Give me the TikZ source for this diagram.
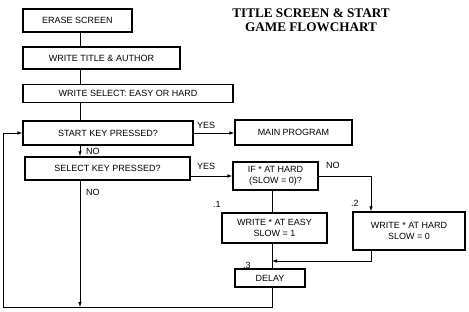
\documentclass[tikz,border=0pt]{standalone}
\usepackage{fontspec}
\setmainfont{Liberation Sans}
\newfontfamily\titlefont{Liberation Serif}
\usetikzlibrary{arrows.meta}
\begin{document}
\begin{tikzpicture}[x=1pt,y=-1pt,
  box/.style={draw, line width=1.2pt, inner sep=0pt, align=center,
    font=\fontsize{9}{11}\selectfont},
  conn/.style={draw, line width=0.8pt},
  arr/.style={conn, -{Latex[length=5pt,width=3.6pt]}},
  lbl/.style={font=\fontsize{9}{10}\selectfont, inner sep=0pt, anchor=west},
  ttl/.style={font=\titlefont\bfseries\fontsize{13.2}{13.5}\selectfont, align=center, inner sep=0pt}]
\useasboundingbox (0,0) rectangle (469,312);
\fill[white] (0,0) rectangle (469,312);

\node[ttl] (title) at (311,20) {TITLE SCREEN \& START\\GAME FLOWCHART};

\node[box, minimum width=109pt, minimum height=23pt] (erase) at (77.5,20.5) {ERASE SCREEN};
\node[box, minimum width=157pt, minimum height=22pt] (wtitle) at (101.5,58) {WRITE TITLE \& AUTHOR};
\node[box, minimum width=210pt, minimum height=18pt] (wsel) at (128,93.5) {WRITE SELECT: EASY OR HARD};
\node[box, minimum width=170pt, minimum height=24pt] (start) at (108,133) {START KEY PRESSED?};
\node[box, minimum width=117pt, minimum height=25pt] (main) at (293.5,132.5) {MAIN PROGRAM};
\node[box, minimum width=165pt, minimum height=23pt] (selkey) at (107.5,168.5) {SELECT KEY PRESSED?};
\node[box, minimum width=85pt, minimum height=28pt] (ifhard) at (275.5,176) {IF * AT HARD\\(SLOW = 0)?};
\node[box, minimum width=105pt, minimum height=30pt] (easy) at (274.5,228) {WRITE * AT EASY\\SLOW = 1};
\node[box, minimum width=112pt, minimum height=38pt] (hard) at (409,231) {WRITE * AT HARD\\SLOW = 0};
\node[box, minimum width=70pt, minimum height=18pt] (delay) at (270,278) {DELAY};

\coordinate (colx) at (80,0);
\coordinate (cole) at (272,0);
\coordinate (nocorner) at (371,176);
\coordinate (join) at (371,261);
\coordinate (c1) at (272,307);
\coordinate (c2) at (3,307);
\coordinate (c3) at (3,133);
\coordinate (bot) at (80,307);

\draw[conn] (erase.south -| colx) -- (wtitle.north -| colx);
\draw[conn] (wtitle.south -| colx) -- (wsel.north -| colx);
\draw[conn] (wsel.south -| colx) -- (start.north -| colx);
\draw[arr] (start.south -| colx) -- (selkey.north -| colx);
\draw[arr] (selkey.south -| colx) -- (bot);
\draw[arr] (start.east) -- (start.east -| main.west);
\draw[arr] (selkey.east |- ifhard.west) -- (ifhard.west);
\draw[arr] (ifhard.east |- nocorner) -- (nocorner) -- (nocorner |- hard.north);
\draw[conn] (ifhard.south -| cole) -- (easy.north -| cole);
\draw[conn] (easy.south -| cole) -- (delay.north -| cole);
\draw[arr] (hard.south -| join) -- (join) -- (join -| cole);
\draw[arr] (delay.south -| cole) -- (c1) -- (c2) -- (c3) -- (start.west);

\node[lbl] (yes1) at (197,125) {YES};
\node[lbl] (yes2) at (197,166) {YES};
\node[lbl] (no1) at (86,151) {NO};
\node[lbl] (no2) at (86,192) {NO};
\node[lbl] (no3) at (326,165) {NO};
\node[lbl] (n1) at (213,204) {.1};
\node[lbl] (n2) at (351,203) {.2};
\node[lbl] (n3) at (243,265) {.3};
\end{tikzpicture}
\end{document}
